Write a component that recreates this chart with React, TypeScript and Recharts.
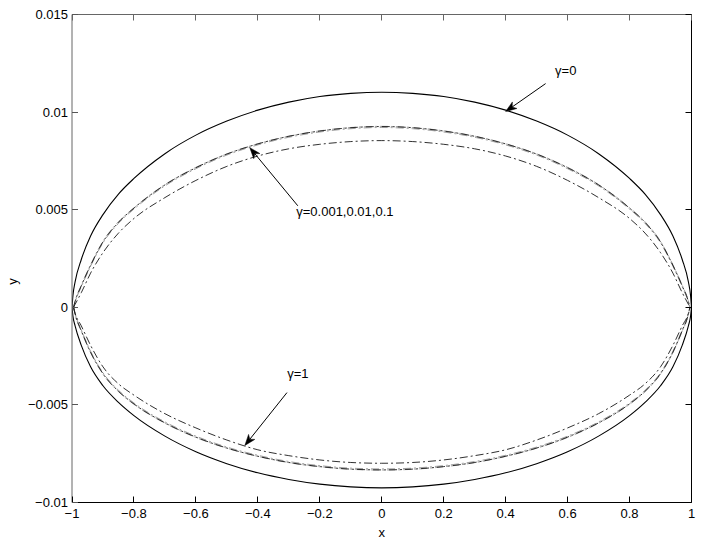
import React from 'react';
import { LineChart, Line, XAxis, YAxis, ReferenceLine, ReferenceDot } from 'recharts';

// ---- ticks ----
const xTicks = [-1, -0.8, -0.6, -0.4, -0.2, 0, 0.2, 0.4, 0.6, 0.8, 1];
const yTicks = [-0.01, -0.005, 0, 0.005, 0.01, 0.015];

// ---- gamma = 0 (solid) ----
const xSolid = [-1, -0.997, -0.99, -0.97, -0.94, -0.9, -0.85, -0.8, -0.7, -0.6, -0.5, -0.4, -0.3, -0.2, -0.1, 0, 0.1, 0.2, 0.3, 0.4, 0.5, 0.6, 0.7, 0.8, 0.85, 0.9, 0.94, 0.97, 0.99, 0.997, 1];
const g0Upper = [0, 0.0006, 0.0013, 0.00245, 0.00365, 0.00475, 0.0058, 0.0066, 0.00787, 0.00882, 0.00954, 0.0101, 0.01051, 0.0108, 0.01096, 0.01102, 0.01096, 0.0108, 0.01051, 0.0101, 0.00954, 0.00882, 0.00787, 0.0066, 0.0058, 0.00475, 0.00365, 0.00245, 0.0013, 0.0006, 0];
const g0Lower = [0, -0.00045, -0.00095, -0.00195, -0.00305, -0.00402, -0.00487, -0.00555, -0.0066, -0.0074, -0.00801, -0.00848, -0.00882, -0.00906, -0.0092, -0.00925, -0.0092, -0.00906, -0.00882, -0.00848, -0.00801, -0.0074, -0.0066, -0.00555, -0.00487, -0.00402, -0.00305, -0.00195, -0.00095, -0.00045, 0];

// ---- dash-dot curves ----
const xDash = [-0.995, -0.99, -0.97, -0.94, -0.9, -0.85, -0.8, -0.7, -0.6, -0.5, -0.4, -0.3, -0.2, -0.1, 0, 0.1, 0.2, 0.3, 0.4, 0.5, 0.6, 0.7, 0.8, 0.85, 0.9, 0.94, 0.97, 0.99, 0.995];
// gamma = 0.001
const gAUpper = [0, 0.0003, 0.0011, 0.00215, 0.00335, 0.00435, 0.00508, 0.00627, 0.00715, 0.00785, 0.00837, 0.00876, 0.00903, 0.0092, 0.00926, 0.0092, 0.00903, 0.00876, 0.00837, 0.00785, 0.00715, 0.00627, 0.00508, 0.00435, 0.00335, 0.00215, 0.0011, 0.0003, 0];
const gALower = [0, -0.00035, -0.0012, -0.0023, -0.0034, -0.0043, -0.00495, -0.00592, -0.00665, -0.00721, -0.00763, -0.00795, -0.00816, -0.00829, -0.00833, -0.00829, -0.00816, -0.00795, -0.00763, -0.00721, -0.00665, -0.00592, -0.00495, -0.0043, -0.0034, -0.0023, -0.0012, -0.00035, 0];
// gamma = 0.01
const gBUpper = [0, 0.00032, 0.00113, 0.00218, 0.00338, 0.00438, 0.0051, 0.00629, 0.00717, 0.00786, 0.00838, 0.00877, 0.00904, 0.00921, 0.00927, 0.00921, 0.00904, 0.00877, 0.00838, 0.00786, 0.00717, 0.00629, 0.0051, 0.00438, 0.00338, 0.00218, 0.00113, 0.00032, 0];
const gBLower = [0, -0.00037, -0.00122, -0.00232, -0.00342, -0.00432, -0.00497, -0.00594, -0.00667, -0.00722, -0.00764, -0.00796, -0.00817, -0.0083, -0.00834, -0.0083, -0.00817, -0.00796, -0.00764, -0.00722, -0.00667, -0.00594, -0.00497, -0.00432, -0.00342, -0.00232, -0.00122, -0.00037, 0];
// gamma = 0.1
const gCUpper = [0, 0.00027, 0.00105, 0.0021, 0.0033, 0.0043, 0.00503, 0.00622, 0.0071, 0.0078, 0.00832, 0.00871, 0.00898, 0.00915, 0.00921, 0.00915, 0.00898, 0.00871, 0.00832, 0.0078, 0.0071, 0.00622, 0.00503, 0.0043, 0.0033, 0.0021, 0.00105, 0.00027, 0];
const gCLower = [0, -0.00032, -0.00115, -0.00225, -0.00335, -0.00425, -0.0049, -0.00587, -0.0066, -0.00716, -0.00758, -0.0079, -0.00811, -0.00824, -0.00828, -0.00824, -0.00811, -0.0079, -0.00758, -0.00716, -0.0066, -0.00587, -0.0049, -0.00425, -0.00335, -0.00225, -0.00115, -0.00032, 0];
// gamma = 1
const gDUpper = [0, 0.00015, 0.00075, 0.00175, 0.0028, 0.0038, 0.00455, 0.00562, 0.0065, 0.00722, 0.00775, 0.00812, 0.00835, 0.00849, 0.00854, 0.00849, 0.00835, 0.00812, 0.00775, 0.00722, 0.0065, 0.00562, 0.00455, 0.0038, 0.0028, 0.00175, 0.00075, 0.00015, 0];
const gDLower = [0, -0.0003, -0.00095, -0.00195, -0.00305, -0.00392, -0.0045, -0.00545, -0.00618, -0.0068, -0.0073, -0.0076, -0.00782, -0.00795, -0.00799, -0.00795, -0.00782, -0.0076, -0.0073, -0.0068, -0.00618, -0.00545, -0.0045, -0.00392, -0.00305, -0.00195, -0.00095, -0.0003, 0];

// ---- annotations (data coordinates) ----
const notes = [
  { text: 'γ=0', x: 0.594, y: 0.01213, anchor: 'middle', fromX: 0.529, fromY: 0.01146, toX: 0.4, toY: 0.01003 },
  { text: 'γ=0.001,0.01,0.1', x: -0.276, y: 0.0049, anchor: 'start', fromX: -0.271, fromY: 0.0052, toX: -0.426, toY: 0.00818 },
  { text: 'γ=1', x: -0.271, y: -0.0034, anchor: 'middle', fromX: -0.306, fromY: -0.00437, toX: -0.442, toY: -0.00708 },
];

const FONT = '"Liberation Sans", Arial, Helvetica, sans-serif';
const FS = 13;

const pts = (xs: number[], ys: number[]) => xs.map((x, i) => ({ x, y: ys[i] }));

const fmt = (v: number) => {
  if (v === 0) return '0';
  const s = String(Math.abs(v));
  return (v < 0 ? '\u2212' : '') + s;
};

const DASH = '8 3 2 3';
const curves = [
  { key: 'g0u', data: pts(xSolid, g0Upper), dash: undefined, color: '#000', w: 1.1, off: 0 },
  { key: 'g0l', data: pts(xSolid, g0Lower), dash: undefined, color: '#000', w: 1.1, off: 0 },
  { key: 'gBu', data: pts(xDash, gBUpper), dash: DASH, color: '#777', w: 0.7, off: 1.5 },
  { key: 'gBl', data: pts(xDash, gBLower), dash: DASH, color: '#777', w: 0.7, off: 1.5 },
  { key: 'gCu', data: pts(xDash, gCUpper), dash: DASH, color: '#777', w: 0.7, off: 3 },
  { key: 'gCl', data: pts(xDash, gCLower), dash: DASH, color: '#777', w: 0.7, off: 3 },
  { key: 'gAu', data: pts(xDash, gAUpper), dash: DASH, color: '#1a1a1a', w: 0.9, off: 0 },
  { key: 'gAl', data: pts(xDash, gALower), dash: DASH, color: '#1a1a1a', w: 0.9, off: 0 },
  { key: 'gDu', data: pts(xDash, gDUpper), dash: DASH, color: '#1a1a1a', w: 0.9, off: 0 },
  { key: 'gDl', data: pts(xDash, gDLower), dash: DASH, color: '#1a1a1a', w: 0.9, off: 0 },
];

const crisp = (v: number) => Math.round(v - 0.5) + 0.5;

const BottomTick = (p: any) => {
  const x = crisp(p.x);
  return (
    <g>
      <line x1={x} y1={p.y} x2={x} y2={p.y - 6} stroke="#000" strokeWidth={1} />
      <text x={p.x} y={p.y + 15.5} textAnchor="middle" fontFamily={FONT} fontSize={FS} fill="#000">
        {fmt(p.payload.value)}
      </text>
    </g>
  );
};
const TopTick = (p: any) => {
  const x = crisp(p.x);
  return <line x1={x} y1={p.y} x2={x} y2={p.y + 6} stroke="#666" strokeWidth={1} />;
};
const LeftTick = (p: any) => {
  const y = crisp(p.y);
  return (
    <g>
      <line x1={p.x} y1={y} x2={p.x + 6} y2={y} stroke="#555" strokeWidth={1} />
      <text x={p.x - 4} y={p.y + 4.5} textAnchor="end" fontFamily={FONT} fontSize={FS} fill="#000">
        {fmt(p.payload.value)}
      </text>
    </g>
  );
};
const RightTick = (p: any) => {
  const y = crisp(p.y);
  return <line x1={p.x} y1={y} x2={p.x - 6} y2={y} stroke="#000" strokeWidth={1} />;
};

const Arrow = (p: any) => {
  const { x1, y1, x2, y2 } = p;
  const dx = x2 - x1;
  const dy = y2 - y1;
  const len = Math.sqrt(dx * dx + dy * dy) || 1;
  const ux = dx / len;
  const uy = dy / len;
  const L = 11;
  const W = 4;
  const bx = x2 - ux * L;
  const by = y2 - uy * L;
  const nx = x2 - ux * (L - 3);
  const ny = y2 - uy * (L - 3);
  const poly = `${x2},${y2} ${bx - uy * W},${by + ux * W} ${nx},${ny} ${bx + uy * W},${by - ux * W}`;
  return (
    <g>
      <line x1={x1} y1={y1} x2={nx} y2={ny} stroke="#000" strokeWidth={1} />
      <polygon points={poly} fill="#000" stroke="#000" strokeWidth={0.5} />
    </g>
  );
};

export default function App() {
  return (
    <div style={{ position: 'absolute', left: 0, top: 0, background: '#fff' }}>
      <LineChart width={702} height={542} margin={{ top: 13.5, right: 9.5, bottom: 0, left: 0 }}>
        <XAxis
          xAxisId="b"
          type="number"
          dataKey="x"
          domain={[-1, 1]}
          ticks={xTicks}
          interval={0}
          height={39.5}
          tickSize={0}
          tickMargin={0}
          tickLine={false}
          axisLine={{ stroke: '#000', strokeWidth: 1 }}
          tick={<BottomTick />}
          allowDataOverflow
          label={{
            content: (lp: any) => (
              <text x={lp.viewBox.x + lp.viewBox.width / 2} y={537} textAnchor="middle" fontFamily={FONT} fontSize={FS} fill="#000">
                x
              </text>
            ),
          }}
        />
        <XAxis
          xAxisId="t"
          orientation="top"
          type="number"
          dataKey="x"
          domain={[-1, 1]}
          ticks={xTicks}
          interval={0}
          height={1}
          tickSize={0}
          tickMargin={0}
          tickLine={false}
          axisLine={{ stroke: '#666', strokeWidth: 1 }}
          tick={<TopTick />}
          allowDataOverflow
        />
        <YAxis
          yAxisId="l"
          type="number"
          domain={[-0.01, 0.015]}
          ticks={yTicks}
          interval={0}
          width={72}
          tickSize={0}
          tickMargin={0}
          tickLine={false}
          axisLine={{ stroke: '#666', strokeWidth: 1 }}
          tick={<LeftTick />}
          allowDataOverflow
          label={{
            content: () => (
              <text x={16.5} y={281.5} transform="rotate(-90 16.5 281.5)" textAnchor="middle" fontFamily={FONT} fontSize={FS} fill="#000">
                y
              </text>
            ),
          }}
        />
        <YAxis
          yAxisId="r"
          orientation="right"
          type="number"
          domain={[-0.01, 0.015]}
          ticks={yTicks}
          interval={0}
          width={1}
          tickSize={0}
          tickMargin={0}
          tickLine={false}
          axisLine={{ stroke: '#000', strokeWidth: 1 }}
          tick={<RightTick />}
          allowDataOverflow
        />
        {curves.map((c) => (
          <Line
            key={c.key}
            xAxisId="b"
            yAxisId="l"
            data={c.data}
            dataKey="y"
            type="monotone"
            stroke={c.color}
            strokeWidth={c.w}
            strokeDasharray={c.dash}
            strokeDashoffset={c.off}
            dot={false}
            activeDot={false}
            isAnimationActive={false}
          />
        ))}
        {notes.map((n) => (
          <ReferenceLine
            key={'a' + n.text}
            xAxisId="b"
            yAxisId="l"
            segment={[{ x: n.fromX, y: n.fromY }, { x: n.toX, y: n.toY }]}
            ifOverflow="visible"
            shape={(p: any) => <Arrow {...p} />}
          />
        ))}
        {notes.map((n) => (
          <ReferenceDot
            key={'t' + n.text}
            xAxisId="b"
            yAxisId="l"
            x={n.x}
            y={n.y}
            r={0}
            ifOverflow="visible"
            shape={(p: any) => (
              <text x={p.cx} y={p.cy + 4.5} textAnchor={n.anchor as any} fontFamily={FONT} fontSize={FS} fill="#000">
                {n.text}
              </text>
            )}
          />
        ))}
      </LineChart>
    </div>
  );
}
